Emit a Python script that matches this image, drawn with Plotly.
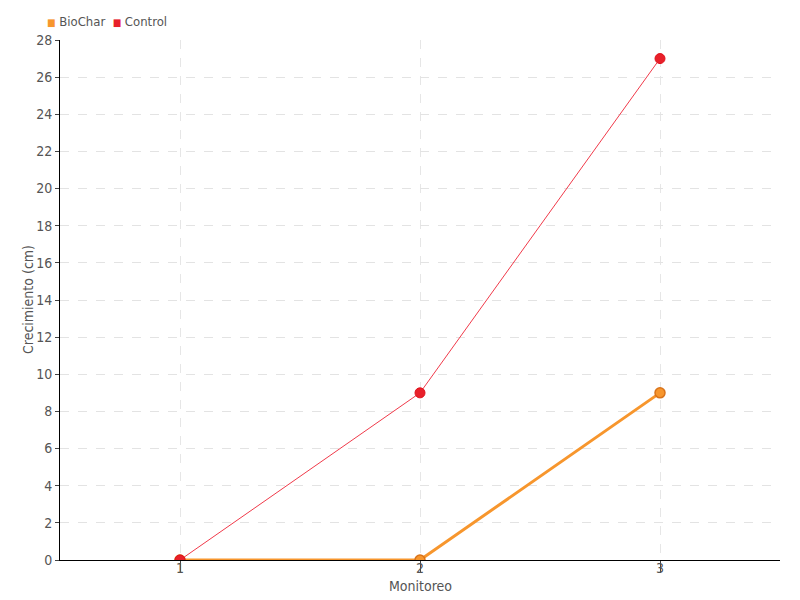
import plotly.graph_objects as go

monitoreo = [1, 2, 3]
biochar = [0, 0, 9]
control = [0, 9, 27]
series_names = ["BioChar", "Control"]
x_title = "Monitoreo"
y_title = "Crecimiento (cm)"

FONT = "Liberation Sans Narrow, DejaVu Sans Condensed, Roboto Condensed, sans-serif"
ORANGE = "#f7962d"
RED = "#e8202a"
TXT = "#555555"

fig = go.Figure()
fig.add_trace(go.Scatter(
    x=monitoreo, y=biochar, mode="lines+markers", name=series_names[0],
    line=dict(color=ORANGE, width=3),
    marker=dict(color=ORANGE, size=10, line=dict(color="#d9731a", width=1.5)),
))
fig.add_trace(go.Scatter(
    x=monitoreo, y=control, mode="lines+markers", name=series_names[1],
    line=dict(color="#f03a4a", width=1),
    marker=dict(color=RED, size=10, line=dict(color="#e0101a", width=1)),
))

legend_text = (
    f"<span style='color:{ORANGE};font-size:10px'>■</span> {series_names[0]}  "
    f"<span style='color:{RED};font-size:10px'>■</span> {series_names[1]}"
)

# page renders with an ~8px body offset, so the figure is shrunk to fit
fig.update_layout(
    width=792, height=592,
    margin=dict(l=52, r=20, t=32, b=40),
    paper_bgcolor="white", plot_bgcolor="white",
    font=dict(family=FONT, size=14, color=TXT),
    showlegend=False,
    annotations=[
        dict(text=legend_text, xref="paper", yref="paper",
             x=-0.021, y=1.0, yshift=19, xanchor="left", yanchor="middle",
             showarrow=False, font=dict(size=13, color=TXT)),
        dict(text=x_title, xref="paper", yref="paper", x=0.5, y=0,
             yshift=-26, xanchor="center", yanchor="middle",
             showarrow=False, font=dict(size=14, color=TXT)),
        dict(text=y_title, xref="paper", yref="paper", x=0, y=0.5,
             xshift=-32, xanchor="center", yanchor="middle", textangle=-90,
             showarrow=False, font=dict(size=14, color=TXT)),
    ],
)
fig.update_xaxes(
    range=[0.5, 3.5], tickvals=monitoreo, ticktext=[str(v) for v in monitoreo],
    showgrid=True, gridcolor="#e6e6e6", griddash="dash", gridwidth=1,
    showline=True, linecolor="black", linewidth=1,
    ticks="outside", ticklen=12, tickcolor="#444444", zeroline=False,
    ticklabelstandoff=-17, automargin=False,
    tickfont=dict(size=14, color=TXT),
)
fig.update_yaxes(
    range=[0, 28], dtick=2,
    showgrid=True, gridcolor="#e3e3e3", griddash="dash", gridwidth=1,
    showline=True, linecolor="black", linewidth=1,
    ticks="outside", ticklen=4, tickcolor="#444444", zeroline=False,
    automargin=False,
    tickfont=dict(size=14, color=TXT),
)

fig.write_html("out.html")
